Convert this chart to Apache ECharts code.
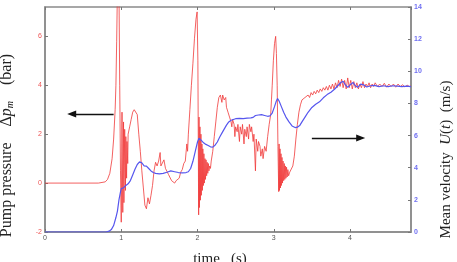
<!DOCTYPE html>
<html>
<head>
<meta charset="utf-8">
<script src="https://cdn.jsdelivr.net/npm/echarts@6/dist/echarts.min.js"></script>
<style>
  html, body { margin: 0; padding: 0; background: #fff; }
  #chart { width: 457px; height: 262px; }
</style>
</head>
<body>
<div id="chart"></div>
<script>
// pump pressure (bar) vs time (s)
const pressureTime = [
  0, 0.7, 0.79, 0.82, 0.85, 0.88, 0.9, 0.92, 0.93, 0.94, 0.95, 0.96, 0.97, 0.98, 0.99, 1.0,
  1.01, 1.02, 1.03, 1.035, 1.045, 1.055, 1.06, 1.07, 1.075, 1.085, 1.09, 1.11, 1.13, 1.15, 1.17, 1.19,
  1.21, 1.23, 1.25, 1.27, 1.29, 1.31, 1.33, 1.35, 1.37, 1.39, 1.41, 1.43, 1.45, 1.47, 1.49, 1.51,
  1.52, 1.54, 1.56, 1.58, 1.6, 1.62, 1.64, 1.66, 1.68, 1.7, 1.72, 1.74, 1.76, 1.78, 1.8, 1.82,
  1.84, 1.86, 1.87, 1.88, 1.9, 1.92, 1.94, 1.96, 1.98, 1.995, 2.005, 2.015,
  2.02, 2.025, 2.032, 2.038, 2.045, 2.05, 2.058, 2.064, 2.07, 2.077, 2.084, 2.09, 2.098, 2.105,
  2.112, 2.12, 2.127, 2.135, 2.142, 2.15, 2.16, 2.17, 2.18, 2.2, 2.22, 2.24, 2.26, 2.28, 2.3,
  2.32, 2.33, 2.35, 2.37, 2.38, 2.4, 2.42, 2.44, 2.45, 2.46, 2.48, 2.49, 2.5, 2.52, 2.53, 2.55,
  2.56, 2.58, 2.59, 2.61, 2.62, 2.64, 2.65, 2.67, 2.68, 2.7, 2.71, 2.73, 2.74, 2.76, 2.77, 2.79,
  2.8, 2.82, 2.83, 2.85, 2.86, 2.88, 2.9, 2.92, 2.94, 2.96, 2.97, 2.98, 2.995, 3.01, 3.025, 3.035,
  3.045, 3.055, 3.065,
  3.07, 3.075, 3.082, 3.088, 3.095, 3.1, 3.108, 3.115, 3.122, 3.13, 3.138, 3.145, 3.152, 3.16,
  3.168, 3.176, 3.185, 3.195, 3.21, 3.23, 3.25, 3.27, 3.29, 3.31, 3.33, 3.35, 3.37, 3.39, 3.41,
  3.43, 3.45, 3.47, 3.49, 3.51, 3.53, 3.55, 3.57, 3.59, 3.61, 3.63, 3.65, 3.67, 3.69, 3.71, 3.73,
  3.75, 3.77, 3.79, 3.81, 3.83, 3.85, 3.87, 3.89, 3.91, 3.93, 3.95, 3.97, 3.99, 4.01, 4.03, 4.05,
  4.07, 4.09, 4.11, 4.13, 4.15, 4.17, 4.19, 4.21, 4.23, 4.25, 4.27, 4.29, 4.31, 4.33, 4.36, 4.39,
  4.42, 4.45, 4.48, 4.51, 4.54, 4.57, 4.6, 4.63, 4.66, 4.69, 4.72, 4.75, 4.78, 4.8
]
const pressureVals = [
  0, 0, 0.05, 0.15, 0.4, 1.0, 1.8, 3.0, 4.0, 5.8, 8.0, 9.5, 8.0, 4.0, 0.5, -1.6,
  2.9, -1.2, 2.5, -0.8, 2.2, -0.3, 1.9, 0.2, 1.7, 0.8, 2.0, 2.3, 2.6, 2.9, 3.0, 3.05,
  2.8, 2.0, 1.3, 0.5, -0.2, -0.9, -1.05, -0.6, -0.85, -0.5, -0.1, 0.5, 0.85, 0.7, 0.9, 1.25,
  0.7, 0.75, 0.95, 0.6, 0.55, 0.35, 0.3, 0.1, 0.15, 0.0, 0.1, 0.05, 0.2, 0.45, 0.55, 0.8,
  0.9, 1.6, 1.3, 2.0, 3.0, 4.0, 4.9, 5.9, 6.7, 7.0, 5.0, -1.3,
  2.7, -1.0, 2.3, -0.7, 2.0, -0.5, 1.6, -0.3, 1.4, -0.1, 1.2, 0.0, 1.0, 0.15,
  0.95, 0.3, 0.85, 0.4, 0.8, 0.5, 0.7, 0.6, 0.9, 1.3, 1.9, 2.5, 3.1, 3.5, 3.6,
  3.3, 3.6, 3.4, 3.5, 3.1, 2.9, 2.7, 2.5, 2.3, 2.6, 2.4, 1.9, 2.3, 2.1, 2.4, 1.7,
  2.3, 2.0, 2.4, 1.6, 2.2, 1.9, 2.3, 1.8, 2.4, 2.1, 2.3, 1.7, 2.0, 0.5, 1.8, 1.3,
  1.7, 1.5, 1.1, 1.4, 1.0, 1.5, 1.3, 1.9, 2.4, 2.8, 3.4, 4.0, 5.0, 5.7, 6.0, 5.3,
  4.0, 1.5, -0.35,
  1.6, -0.3, 1.4, -0.2, 1.2, -0.1, 1.05, 0.0, 0.9, 0.1, 0.8, 0.15, 0.7, 0.2,
  0.65, 0.25, 0.55, 0.3, 0.45, 0.45, 0.7, 1.1, 1.8, 2.4, 2.9, 3.2, 3.4, 3.35, 3.5,
  3.45, 3.6, 3.5, 3.7, 3.6, 3.75, 3.65, 3.8, 3.7, 3.85, 3.75, 3.9, 3.8, 3.95, 3.8, 4.0,
  3.85, 4.05, 3.85, 4.1, 3.9, 4.2, 3.95, 4.25, 3.9, 4.2, 3.85, 4.3, 3.9, 4.2, 3.85, 4.15,
  3.9, 4.1, 3.85, 4.05, 3.9, 4.15, 3.9, 4.05, 3.95, 4.1, 3.9, 4.05, 3.95, 4.1, 3.95, 4.05,
  3.95, 4.08, 3.92, 4.05, 3.95, 4.05, 3.92, 4.05, 3.95, 4.02, 3.93, 4.0, 3.95, 3.97
]

// mean velocity (m/s) vs time (s)
const velocityTime = [
  0, 0.8, 0.84, 0.87, 0.9, 0.93, 0.95, 0.97, 0.99, 1.0, 1.03, 1.06, 1.09, 1.12, 1.15, 1.18,
  1.21, 1.24, 1.27, 1.3, 1.33, 1.36, 1.39, 1.42, 1.45, 1.5, 1.55, 1.6, 1.65, 1.7, 1.75, 1.8,
  1.85, 1.88, 1.91, 1.94, 1.97, 2.0, 2.02, 2.05, 2.08, 2.11, 2.14, 2.17, 2.2, 2.23, 2.26, 2.29,
  2.32, 2.35, 2.38, 2.41, 2.44, 2.47, 2.5, 2.55, 2.6, 2.65, 2.7, 2.73, 2.76, 2.8, 2.84, 2.88,
  2.92, 2.95, 2.98, 3.01, 3.03, 3.05, 3.07, 3.1, 3.13, 3.16, 3.2, 3.24, 3.28, 3.31, 3.34, 3.37,
  3.41, 3.45, 3.5, 3.55, 3.6, 3.65, 3.7, 3.75, 3.8, 3.84, 3.88, 3.91, 3.94, 3.97, 4.0, 4.04,
  4.07, 4.1, 4.14, 4.18, 4.22, 4.27, 4.32, 4.38, 4.44, 4.5, 4.56, 4.62, 4.68, 4.74, 4.8
]
const velocityVals = [
  0, 0, 0.05, 0.15, 0.4, 0.9, 1.3, 2.0, 2.5, 2.7, 2.75, 2.9, 3.0, 3.2, 3.55, 3.9,
  4.2, 4.37, 4.3, 4.12, 4.1, 3.95, 3.8, 3.7, 3.65, 3.62, 3.65, 3.72, 3.8, 3.75, 3.7, 3.68,
  3.7, 3.75, 3.95, 4.4, 5.0, 5.6, 5.83, 5.7, 5.55, 5.45, 5.38, 5.3, 5.28, 5.4, 5.6, 5.9,
  6.15, 6.4, 6.65, 6.85, 6.95, 7.0, 7.05, 7.07, 7.05, 7.08, 7.1, 7.13, 7.25, 7.28, 7.3, 7.25,
  7.2, 7.22, 7.4, 7.8, 8.1, 8.3, 8.15, 7.8, 7.45, 7.15, 6.85, 6.6, 6.5, 6.52, 6.62, 6.85,
  7.15, 7.45, 7.75, 7.95, 8.1, 8.35, 8.55, 8.7, 8.9, 9.1, 9.3, 9.38, 9.15, 9.0, 9.15, 9.3,
  9.1, 9.0, 9.2, 9.15, 9.02, 9.1, 9.12, 9.05, 9.1, 9.05, 9.1, 9.08, 9.05, 9.08, 9.05
]

// arrow annotations, in data coordinates
const pressureArrow = [[0.9, 2.82], [0.35, 2.82]]
const velocityArrow = [[3.5, 5.85], [4.14, 5.85]]

const serif = 'Liberation Serif'
const tickStyle = { show: true, inside: true, length: 3, lineStyle: { color: '#777' } }

const option = {
  animation: false,
  backgroundColor: '#fff',
  grid: {
    left: 45,
    right: 46,
    top: 7,
    bottom: 30,
    containLabel: false,
    outerBoundsMode: 'none',
    show: true,
    borderColor: '#8a8a8a',
    borderWidth: 1.5,
  },
  xAxis: [
    {
      type: 'value',
      min: 0,
      max: 4.8,
      interval: 1,
      name: 'time   (s)',
      nameLocation: 'middle',
      nameGap: 20,
      nameTextStyle: { fontFamily: serif, fontSize: 15, color: '#222', padding: [0, 16, 0, 0] },
      axisLine: { show: true, onZero: false, lineStyle: { color: '#8a8a8a', width: 1.5 } },
      axisTick: tickStyle,
      axisLabel: { fontSize: 7, color: '#555', margin: 3, showMaxLabel: false },
      splitLine: { show: false },
    },
    {
      type: 'value',
      position: 'top',
      min: 0,
      max: 4.8,
      interval: 1,
      axisLine: { show: false, onZero: false },
      axisTick: tickStyle,
      axisLabel: { show: false },
      splitLine: { show: false },
    },
  ],
  yAxis: [
    {
      type: 'value',
      min: -2,
      max: 7.2,
      interval: 2,
      name: '{a|Pump pressure    Δ}{i|p}{s|m}{a|    (bar)}',
      nameLocation: 'middle',
      nameRotate: 90,
      nameGap: 30,
      nameTextStyle: {
        padding: [0, 52, 0, 0],
        rich: {
          a: { fontFamily: serif, fontSize: 16, color: '#222' },
          i: { fontFamily: serif, fontSize: 16, fontStyle: 'italic', color: '#222' },
          s: { fontFamily: serif, fontSize: 10, fontStyle: 'italic', color: '#222', padding: [7, 0, 0, 0] },
        },
      },
      axisLine: { show: true, onZero: false, lineStyle: { color: '#8a8a8a', width: 1.5 } },
      axisTick: tickStyle,
      axisLabel: { fontSize: 7, color: '#ee5555', margin: 3, showMaxLabel: false },
      splitLine: { show: false },
    },
    {
      type: 'value',
      position: 'right',
      min: 0,
      max: 14,
      interval: 2,
      name: '{a|Mean velocity  }{i|U}{a|(}{i|t}{a|)  (m/s)}',
      nameLocation: 'middle',
      nameRotate: 90,
      nameGap: 28,
      nameTextStyle: {
        padding: [0, 80, 0, 0],
        rich: {
          a: { fontFamily: serif, fontSize: 15, color: '#222' },
          i: { fontFamily: serif, fontSize: 15, fontStyle: 'italic', color: '#222' },
        },
      },
      axisLine: { show: true, onZero: false, lineStyle: { color: '#8a8a8a', width: 1.5 } },
      axisTick: tickStyle,
      axisLabel: { fontSize: 7, fontWeight: 'bold', color: '#6f6ff2', margin: 3 },
      splitLine: { show: false },
    },
  ],
  series: [
    {
      name: 'pressure',
      type: 'line',
      xAxisIndex: 0,
      yAxisIndex: 0,
      showSymbol: false,
      clip: true,
      data: pressureTime.map((t, i) => [t, pressureVals[i]]),
      lineStyle: { color: '#f03a3a', width: 1, opacity: 0.8 },
      markLine: {
        silent: true,
        symbol: ['none', 'triangle'],
        symbolSize: [7, 9],
        label: { show: false },
        lineStyle: { color: '#111', width: 1.3, type: 'solid', opacity: 1 },
        data: [[{ coord: pressureArrow[0] }, { coord: pressureArrow[1] }]],
      },
    },
    {
      name: 'velocity',
      type: 'line',
      xAxisIndex: 0,
      yAxisIndex: 1,
      showSymbol: false,
      data: velocityTime.map((t, i) => [t, velocityVals[i]]),
      lineStyle: { color: '#5656ee', width: 1.2 },
      markLine: {
        silent: true,
        symbol: ['none', 'triangle'],
        symbolSize: [7, 9],
        label: { show: false },
        lineStyle: { color: '#111', width: 1.3, type: 'solid' },
        data: [[{ coord: velocityArrow[0] }, { coord: velocityArrow[1] }]],
      },
    },
  ],
}

const myChart = echarts.init(document.getElementById('chart'))
myChart.setOption(option)
</script>
</body>
</html>
